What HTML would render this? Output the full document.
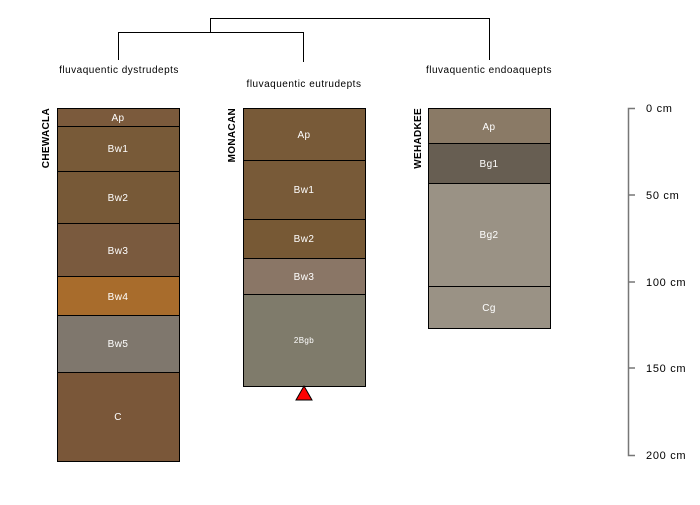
<!DOCTYPE html>
<html><head><style>body{margin:0;background:#fff}</style></head><body>
<svg width="700" height="500" xmlns="http://www.w3.org/2000/svg" font-family="Liberation Sans, sans-serif">
<rect width="700" height="500" fill="#fff"/>
<g stroke="#000" stroke-width="1" fill="none">
<path d="M210.5 32V18.5H489.5V60"/>
<path d="M118.5 60V32.5H303.5V62"/>
</g>
<g font-size="10" fill="#000" text-anchor="middle" letter-spacing="0.5">
<text x="119" y="73">fluvaquentic dystrudepts</text>
<text x="304" y="87">fluvaquentic eutrudepts</text>
<text x="489" y="73">fluvaquentic endoaquepts</text>
</g>
<g font-size="10" font-weight="bold" fill="#000" letter-spacing="0.3">
<text transform="translate(49,108) rotate(-90)" text-anchor="end">CHEWACLA</text>
<text transform="translate(235,108) rotate(-90)" text-anchor="end">MONACAN</text>
<text transform="translate(421,108) rotate(-90)" text-anchor="end">WEHADKEE</text>
</g>
<g stroke="#000" stroke-width="1">
<rect x="57.5" y="108.5" width="122" height="18" fill="#7b5a3c"/>
<rect x="57.5" y="126.5" width="122" height="45" fill="#785a38"/>
<rect x="57.5" y="171.5" width="122" height="52" fill="#775937"/>
<rect x="57.5" y="223.5" width="122" height="53" fill="#7a5a3e"/>
<rect x="57.5" y="276.5" width="122" height="39" fill="#a86c2c"/>
<rect x="57.5" y="315.5" width="122" height="57" fill="#7f776d"/>
<rect x="57.5" y="372.5" width="122" height="89" fill="#7a5739"/>
<rect x="243.5" y="108.5" width="122" height="52" fill="#785a38"/>
<rect x="243.5" y="160.5" width="122" height="59" fill="#785a38"/>
<rect x="243.5" y="219.5" width="122" height="39" fill="#775935"/>
<rect x="243.5" y="258.5" width="122" height="36" fill="#8a7666"/>
<rect x="243.5" y="294.5" width="122" height="92" fill="#7f7b6b"/>
<rect x="428.5" y="108.5" width="122" height="35" fill="#8a7a66"/>
<rect x="428.5" y="143.5" width="122" height="40" fill="#675e52"/>
<rect x="428.5" y="183.5" width="122" height="103" fill="#9a9285"/>
<rect x="428.5" y="286.5" width="122" height="42" fill="#9a9285"/>
<polygon points="304,386 312,400 296,400" fill="#f00"/>
</g>
<g font-size="10" fill="#fff" text-anchor="middle" letter-spacing="0.4">
<text x="118" y="121">Ap</text><text x="118" y="152">Bw1</text><text x="118" y="201">Bw2</text>
<text x="118" y="254">Bw3</text><text x="118" y="300">Bw4</text><text x="118" y="347">Bw5</text>
<text x="118" y="420">C</text>
<text x="304" y="138">Ap</text><text x="304" y="193">Bw1</text><text x="304" y="242">Bw2</text>
<text x="304" y="280">Bw3</text><text x="304" y="343" font-size="8">2Bgb</text>
<text x="489" y="130">Ap</text><text x="489" y="167">Bg1</text><text x="489" y="238">Bg2</text>
<text x="489" y="311">Cg</text>
</g>
<g stroke="#777" stroke-width="1.5" fill="none">
<path d="M635 108.5H628.5V455.5H635"/>
<path d="M628 195H635M628 282H635M628 368H635"/>
</g>
<g font-size="11" fill="#000" letter-spacing="0.7">
<text x="646" y="112">0 cm</text><text x="646" y="199">50 cm</text><text x="646" y="286">100 cm</text>
<text x="646" y="372">150 cm</text><text x="646" y="459">200 cm</text>
</g>
</svg>
</body></html>
